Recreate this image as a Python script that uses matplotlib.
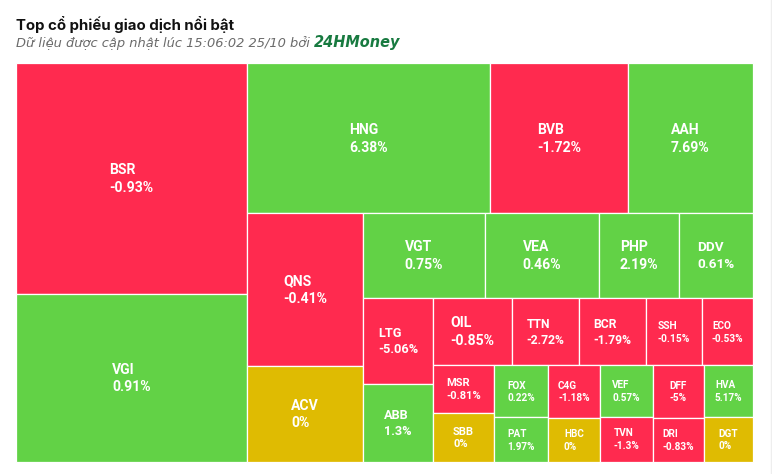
#!/usr/bin/env python3

import numpy
from matplotlib import pyplot
from matplotlib.patches import Rectangle


TICKERS = ["BSR", "VGI", "HNG", "BVB", "AAH", "QNS", "ACV", "VGT", "VEA", "PHP",
	"DDV", "LTG", "ABB", "OIL", "TTN", "BCR", "SSH", "ECO", "MSR", "SBB",
	"FOX", "PAT", "C4G", "HBC", "VEF", "TVN", "DFF", "DRI", "HVA", "DGT"]
# trading value (relative units)
VALUES = [534, 388, 365, 207, 188, 177, 111, 104, 97, 68,
	63, 60, 55, 53, 45, 45, 38, 34, 29, 30,
	28, 24, 27, 23, 27, 24, 27, 23, 25, 22]
# price change (%)
CHANGES = [-0.93, 0.91, 6.38, -1.72, 7.69, -0.41, 0, 0.75, 0.46, 2.19,
	0.61, -5.06, 1.3, -0.85, -2.72, -1.79, -0.15, -0.53, -0.81, 0,
	0.22, 1.97, -1.18, 0, 0.57, -1.3, -5, -0.83, 5.17, 0]

# strip order of the squarified layout
STRIPS = [
	("col", ["BSR", "VGI"]),
	("row", ["HNG", "BVB", "AAH"]),
	("col", ["QNS", "ACV"]),
	("row", ["VGT", "VEA", "PHP", "DDV"]),
	("col", ["LTG", "ABB"]),
	("row", ["OIL", "TTN", "BCR", "SSH", "ECO"]),
	("col", ["MSR", "SBB"]),
	("col", ["FOX", "PAT"]),
	("col", ["C4G", "HBC"]),
	("col", ["VEF", "TVN"]),
	("col", ["DFF", "DRI"]),
	("col", ["HVA", "DGT"]),
]

TITLE = "Top cổ phiếu giao dịch nổi bật"
SUBTITLE = "Dữ liệu được cập nhật lúc 15:06:02 25/10 bởi "
BRAND = "24HMoney"

COLOR_UP = "#62D246"
COLOR_DOWN = "#FF2A4F"
COLOR_FLAT = "#DFBB02"

W, H = 772, 474
AREA = (16, 63, 737, 399)  # x, y, w, h in pixels


def layout(values, strips, area):
	x, y, w, h = area
	rects = {}
	remaining = float(sum(values.values()))
	for direction, names in strips:
		s = float(sum(values[n] for n in names))
		if direction == "col":
			sw = w * s / remaining
			cy = y
			for n in names:
				ch = h * values[n] / s
				rects[n] = (x, cy, sw, ch)
				cy += ch
			x += sw
			w -= sw
		else:
			sh = h * s / remaining
			cx = x
			for n in names:
				cw = w * values[n] / s
				rects[n] = (cx, y, cw, sh)
				cx += cw
			y += sh
			h -= sh
		remaining -= s
	return rects


def px(v):
	return v * 72.0 / 100.0


def draw_header(fig, ax):
	ax.text(16, 29.5, TITLE, fontsize = px(15), fontweight = "bold",
		family = ["Inter", "DejaVu Sans"], color = "#111111", va = "baseline", ha = "left")
	sub = ax.text(16, 46.5, SUBTITLE, fontsize = px(13), fontstyle = "italic",
		family = ["DejaVu Sans"], color = "#6B6B6B", va = "baseline", ha = "left")
	fig.canvas.draw()
	bb = sub.get_window_extent()
	x_end = bb.x1  # display pixels == data x since axes spans the figure
	ax.text(x_end, 46.5, BRAND, fontsize = px(14.5), fontstyle = "italic",
		fontweight = "bold", family = ["DejaVu Sans"], color = "#187A40",
		va = "baseline", ha = "left")


def draw_treemap(ax):
	values = dict(zip(TICKERS, VALUES))
	changes = dict(zip(TICKERS, CHANGES))
	rects = layout(values, STRIPS, AREA)
	for name in TICKERS:
		x, y, w, h = rects[name]
		c = changes[name]
		if c > 0:
			color = COLOR_UP
		elif c < 0:
			color = COLOR_DOWN
		else:
			color = COLOR_FLAT
		ax.add_patch(Rectangle((x, y), w, h, facecolor = color,
			edgecolor = "#FFFFFF", linewidth = 0.9))
		fs = numpy.clip(w / 5.5, 10, 14)
		label = "%s\n%s%%" % (name, "%g" % c)
		ax.text(x + w / 2, y + h / 2 + 0.5, label, ha = "center", va = "center",
			multialignment = "left", color = "#FFFFFF", fontweight = "bold",
			family = ["Roboto", "DejaVu Sans"], fontsize = px(fs), linespacing = 1.35)


def hdl_plot():
	fig = pyplot.figure(figsize = (W / 100.0, H / 100.0), dpi = 100)
	fig.patch.set_facecolor("#FFFFFF")
	ax = fig.add_axes([0, 0, 1, 1])
	ax.set_xlim(0, W)
	ax.set_ylim(H, 0)
	ax.axis("off")
	# faint card edge on the right
	ax.plot([770.5, 770.5], [0, H], color = "#EEEEEE", linewidth = 1.0)
	draw_treemap(ax)
	draw_header(fig, ax)
	return fig


if __name__ == "__main__":
	fig = hdl_plot()
	fig.savefig("out.png", dpi = 100)
	pyplot.close()
